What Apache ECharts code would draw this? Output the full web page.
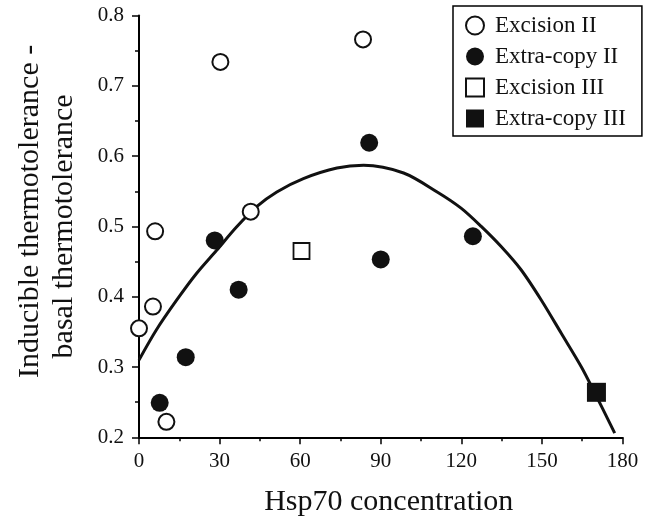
<!DOCTYPE html>
<html>
<head>
<meta charset="utf-8">
<script src="https://cdn.jsdelivr.net/npm/echarts@6/dist/echarts.min.js"></script>
<style>html,body{margin:0;padding:0;background:#fff}#c{width:646px;height:516px}</style>
</head>
<body>
<div id="c"></div>
<script>
var excisionII_x = [0, 5.2, 6.0, 10.2, 30.3, 41.6, 83.4];
var excisionII_y = [0.355, 0.386, 0.493, 0.222, 0.734, 0.521, 0.766];
var extraII_x = [7.7, 17.4, 28.2, 37.1, 85.7, 90.0, 124.3];
var extraII_y = [0.249, 0.314, 0.480, 0.410, 0.619, 0.453, 0.486];
var excisionIII_x = [60.5];
var excisionIII_y = [0.465];
var extraIII_x = [170.3];
var extraIII_y = [0.264];
var curve_x = [0, 6.5, 14, 21.4, 28.9, 36.3, 43.8, 51.3, 61.2, 73.7, 83.6, 98.5, 111, 119.9, 127.4, 134.9, 142.3, 149.8, 157.2, 164.7, 169.7, 177.1];
var curve_y = [0.310, 0.353, 0.395, 0.433, 0.466, 0.499, 0.528, 0.549, 0.568, 0.583, 0.587, 0.576, 0.549, 0.526, 0.500, 0.471, 0.438, 0.395, 0.348, 0.300, 0.263, 0.206];
var seriesNames = ['Excision II', 'Extra-copy II', 'Excision III', 'Extra-copy III'];
var xTitle = 'Hsp70 concentration';
var yTitle = '\u00a0\u00a0\u00a0\u00a0Inducible thermotolerance -\nbasal thermotolerance';

function pairs(xs, ys) { return xs.map(function (x, i) { return [x, ys[i]]; }); }
var font = 'Liberation Serif';
var chart = echarts.init(document.getElementById('c'), null, {renderer: 'canvas'});
chart.setOption({
  animation: false,
  backgroundColor: '#fff',
  grid: {left: 139, right: 23.5, top: 15.5, bottom: 78.7, containLabel: false, outerBoundsMode: 'none'},
  legend: {
    data: seriesNames,
    orient: 'vertical',
    left: 453, top: 6,
    padding: [8, 16, 6, 12],
    itemGap: 8,
    itemWidth: 18, itemHeight: 18,
    borderColor: '#000', borderWidth: 1.5,
    textStyle: {fontFamily: font, fontSize: 23, color: '#111', lineHeight: 23, padding: [0, 0, 0, 6]}
  },
  xAxis: {
    type: 'value', min: 0, max: 180, interval: 30,
    name: xTitle, nameLocation: 'middle', nameGap: 50,
    nameTextStyle: {fontFamily: font, fontSize: 30, color: '#111', padding: [0, 0, 0, 16]},
    axisLine: {show: true, lineStyle: {color: '#000', width: 2}},
    axisTick: {show: true, length: 7, lineStyle: {color: '#000', width: 1.5}},
    minorTick: {show: true, splitNumber: 2, length: 4, lineStyle: {color: '#000', width: 1.5}},
    axisLabel: {fontFamily: font, fontSize: 21, color: '#111', margin: 14},
    splitLine: {show: false}
  },
  yAxis: {
    type: 'value', min: 0.2, max: 0.8, interval: 0.1,
    name: yTitle, nameLocation: 'middle', nameGap: 58, nameRotate: 90,
    nameTextStyle: {fontFamily: font, fontSize: 30, color: '#111', lineHeight: 34},
    axisLine: {show: true, lineStyle: {color: '#000', width: 2}},
    axisTick: {show: true, length: 7, lineStyle: {color: '#000', width: 1.5}},
    minorTick: {show: true, splitNumber: 2, length: 4, lineStyle: {color: '#000', width: 1.5}},
    axisLabel: {fontFamily: font, fontSize: 21, color: '#111', margin: 15,
      formatter: function (v) { return v.toFixed(1); }},
    splitLine: {show: false}
  },
  series: [
    {type: 'line', name: 'fit', data: pairs(curve_x, curve_y), smooth: 0.3, showSymbol: false,
     lineStyle: {color: '#111', width: 3}, z: 1},
    {type: 'scatter', name: seriesNames[0], data: pairs(excisionII_x, excisionII_y), symbol: 'circle', symbolSize: 16,
     itemStyle: {color: '#fff', borderColor: '#111', borderWidth: 2, opacity: 1}, z: 3},
    {type: 'scatter', name: seriesNames[1], data: pairs(extraII_x, extraII_y), symbol: 'circle', symbolSize: 18,
     itemStyle: {color: '#111', opacity: 1}, z: 3},
    {type: 'scatter', name: seriesNames[2], data: pairs(excisionIII_x, excisionIII_y), symbol: 'rect', symbolSize: 16,
     itemStyle: {color: '#fff', borderColor: '#111', borderWidth: 1.8, opacity: 1}, z: 3},
    {type: 'scatter', name: seriesNames[3], data: pairs(extraIII_x, extraIII_y), symbol: 'rect', symbolSize: 19,
     itemStyle: {color: '#111', opacity: 1}, z: 3}
  ]
});
</script>
</body>
</html>
